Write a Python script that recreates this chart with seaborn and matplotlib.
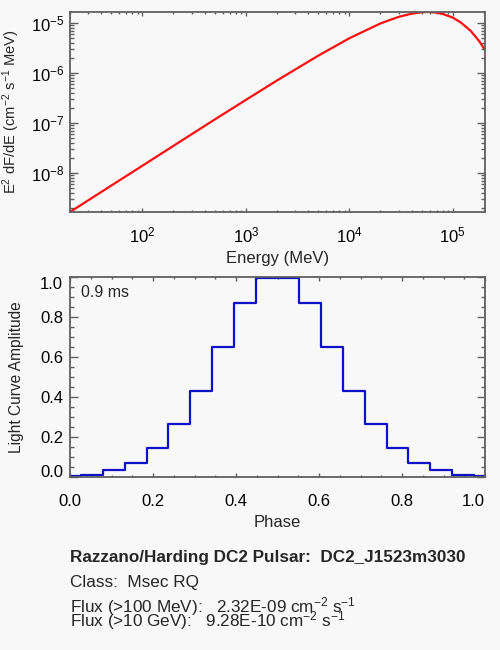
import numpy as np
import matplotlib
matplotlib.use("Agg")
import matplotlib.pyplot as plt
from matplotlib.ticker import LogLocator, MultipleLocator, NullFormatter
import seaborn as sns

# ---------------- data ----------------
energy_mev = [20, 30, 50, 100, 200, 500, 1000, 2000, 5000, 10000, 20000, 30000,
              40000, 50000, 57000, 60000, 70000, 80000, 100000, 120000, 150000,
              180000, 200000, 205000]
e2dfde = [1.64e-9, 2.81e-9, 5.53e-9, 1.38e-8, 3.46e-8, 1.16e-7, 2.86e-7, 7.00e-7,
          2.19e-6, 4.89e-6, 9.70e-6, 1.31e-5, 1.52e-5, 1.62e-5, 1.645e-5, 1.64e-5,
          1.59e-5, 1.50e-5, 1.27e-5, 1.01e-5, 6.79e-6, 4.30e-6, 3.10e-6, 2.85e-6]

phase = [0.000, 0.053, 0.105, 0.158, 0.211, 0.263, 0.316, 0.368, 0.421, 0.474,
         0.526, 0.579, 0.632, 0.684, 0.737, 0.789, 0.842, 0.895, 0.947, 1.000]
amplitude = [0.007, 0.013, 0.034, 0.073, 0.144, 0.267, 0.433, 0.652, 0.872, 0.995,
             0.995, 0.872, 0.652, 0.433, 0.267, 0.144, 0.073, 0.034, 0.013, 0.007]

phase_ticks = [0.0, 0.2, 0.4, 0.6, 0.8, 1.0]
amp_ticks = [0.0, 0.2, 0.4, 0.6, 0.8, 1.0]

period_text = "0.9 ms"
title_line = "Razzano/Harding DC2 Pulsar:  DC2_J1523m3030"
class_line = "Class:  Msec RQ"
flux100_line = r"Flux (>100 MeV):   2.32E-09 cm$^{-2}$ s$^{-1}$"
flux10g_line = r"Flux (>10 GeV):   9.28E-10 cm$^{-2}$ s$^{-1}$"

# ---------------- style ----------------
sns.set_style("ticks")
BG = "#f8f8f8"
SP = "#606060"
plt.rcParams["font.family"] = ["Liberation Sans", "DejaVu Sans"]
plt.rcParams["mathtext.fontset"] = "custom"
plt.rcParams["mathtext.rm"] = "Liberation Sans"
plt.rcParams["mathtext.it"] = "Liberation Sans:italic"
plt.rcParams["mathtext.bf"] = "Liberation Sans:bold"
plt.rcParams["mathtext.default"] = "regular"
plt.rcParams["axes.unicode_minus"] = True

fig = plt.figure(figsize=(5.0, 6.5), dpi=100, facecolor=BG)
ax1 = fig.add_axes([0.14, 0.6738, 0.83, 0.3077], facecolor=BG)
ax2 = fig.add_axes([0.14, 0.2657, 0.83, 0.3077], facecolor=BG)

def style_axes(ax, xlen, ylen, size):
    for s in ax.spines.values():
        s.set_color(SP)
        s.set_linewidth(1.3)
        s.set_visible(True)
    ax.tick_params(which="both", direction="in", top=True, right=True,
                   color=SP, width=1.0, labelsize=size, labelcolor="black")
    ax.tick_params(axis="x", which="major", length=xlen)
    ax.tick_params(axis="x", which="minor", length=xlen / 2)
    ax.tick_params(axis="y", which="major", length=ylen)
    ax.tick_params(axis="y", which="minor", length=ylen / 2)

# ---------------- top panel: spectrum ----------------
ax1.set_xscale("log")
ax1.set_yscale("log")
sns.lineplot(x=energy_mev, y=e2dfde, ax=ax1, color="#ff1010", linewidth=1.6,
             sort=False, estimator=None)
ax1.set_xlim(20, 2.05e5)
ax1.set_ylim(1.64e-9, 1.64e-5)
ax1.xaxis.set_minor_locator(LogLocator(base=10, subs=np.arange(2, 10)))
ax1.yaxis.set_minor_locator(LogLocator(base=10, subs=np.arange(2, 10)))
ax1.xaxis.set_minor_formatter(NullFormatter())
ax1.yaxis.set_minor_formatter(NullFormatter())
style_axes(ax1, 3.0, 6.0, 12)
ax1.tick_params(axis="x", pad=10)
ax1.tick_params(axis="y", pad=4)
ax1.set_xlabel("Energy (MeV)", fontsize=12, labelpad=4)
ax1.set_ylabel(r"E$^2$ dF/dE (cm$^{-2}$ s$^{-1}$ MeV)", fontsize=10.6)
ax1.yaxis.set_label_coords(-0.116, 0.5)

# ---------------- bottom panel: light curve ----------------
sns.lineplot(x=phase, y=amplitude, ax=ax2, color="#1010c8", linewidth=1.6,
             drawstyle="steps-mid", estimator=None)
ax2.set_xlim(0, 1)
ax2.set_ylim(0, 1)
ax2.set_xticks(phase_ticks)
ax2.set_yticks(amp_ticks)
ax2.set_xticklabels([f"{v:.1f}" for v in phase_ticks])
ax2.set_yticklabels([f"{v:.1f}" for v in amp_ticks])
ax2.xaxis.set_minor_locator(MultipleLocator(0.05))
ax2.yaxis.set_minor_locator(MultipleLocator(0.05))
style_axes(ax2, 3.0, 6.0, 12)
ax2.tick_params(axis="x", pad=12)
ax2.tick_params(axis="y", pad=5)
yt = ax2.yaxis.get_major_ticks()
yt[0].label1.set_va("baseline")
yt[-1].label1.set_va("top")
xt = ax2.xaxis.get_major_ticks()
xt[-1].label1.set_ha("right")
ax2.set_xlabel("Phase", fontsize=12, labelpad=4)
ax2.set_ylabel("Light Curve Amplitude", fontsize=11.2)
ax2.yaxis.set_label_coords(-0.11, 0.5)
ax2.text(0.0258, 0.90, period_text, transform=ax2.transAxes, fontsize=11.5,
         ha="left", va="baseline")

# ---------------- footer text ----------------
fig.text(0.14, 0.1354, title_line, fontsize=12.3, fontweight="bold", va="baseline")
fig.text(0.14, 0.0965, class_line, fontsize=12.3, va="baseline")
fig.text(0.14, 0.0574, flux100_line, fontsize=12.3, va="baseline")
fig.text(0.14, 0.0358, flux10g_line, fontsize=12.3, va="baseline")

fig.savefig("out.png", dpi=100, facecolor=BG)
